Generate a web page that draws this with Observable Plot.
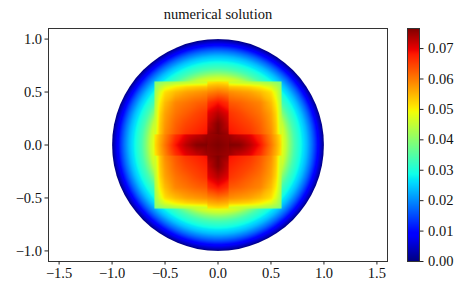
<!DOCTYPE html>
<html>
<head>
<meta charset="utf-8">
<script src="https://cdn.jsdelivr.net/npm/d3@7"></script>
<script src="https://cdn.jsdelivr.net/npm/@observablehq/plot@0.6"></script>
<style>
html,body{margin:0;padding:0;background:#fff;}
#chart{position:relative;width:463px;height:293px;overflow:hidden;}
#chart svg{position:absolute;top:0;background:transparent;}
</style>
</head>
<body>
<div id="chart"></div>
<script>
const titleText = "numerical solution";
const vmax = 0.0766;

// matplotlib "jet" control points (fraction of the colour range -> colour)
const jetFractions = [0, 0.11, 0.125, 0.34, 0.35, 0.375, 0.64, 0.65, 0.66, 0.89, 0.91, 1];
const jetColors = ["#00007f", "#0000ff", "#0000ff", "#00dcff", "#00e5f7", "#0dffea", "#eeff09", "#f8f800", "#ffeb00", "#ff1900", "#ed0000", "#7f0000"];

// value read along a radius of the disc outside the square
const discRadii = [0, 0.6, 0.64, 0.68, 0.72, 0.77, 0.8, 0.84, 0.89, 0.915, 0.95, 0.98, 1];
const discValues = [0.05, 0.049, 0.045, 0.039, 0.034, 0.03, 0.027, 0.0235, 0.0175, 0.014, 0.0085, 0.004, 0];
const discAngles = d3.range(0, 360, 4);

// corner patches of the square: |x| and |y| read along these stations
const cornerStations = [0, 0.1, 0.2, 0.3, 0.4, 0.5, 0.55, 0.58, 0.6];
const cornerValues = [
  [0.0690, 0.0690, 0.0675, 0.0660, 0.0630, 0.0585, 0.0535, 0.0480, 0.0450],
  [0.0690, 0.0690, 0.0675, 0.0660, 0.0630, 0.0585, 0.0535, 0.0480, 0.0450],
  [0.0675, 0.0675, 0.0660, 0.0645, 0.0620, 0.0575, 0.0530, 0.0470, 0.0445],
  [0.0660, 0.0660, 0.0645, 0.0625, 0.0605, 0.0565, 0.0520, 0.0460, 0.0435],
  [0.0630, 0.0630, 0.0620, 0.0605, 0.0590, 0.0545, 0.0500, 0.0450, 0.0425],
  [0.0585, 0.0585, 0.0575, 0.0565, 0.0545, 0.0515, 0.0470, 0.0430, 0.0410],
  [0.0535, 0.0535, 0.0530, 0.0520, 0.0500, 0.0470, 0.0440, 0.0415, 0.0395],
  [0.0480, 0.0480, 0.0470, 0.0460, 0.0450, 0.0430, 0.0415, 0.0400, 0.0385],
  [0.0450, 0.0450, 0.0445, 0.0435, 0.0425, 0.0410, 0.0395, 0.0385, 0.0375]
];

// arms of the cross: along = distance from the centre, across = distance from the axis
const armAlong = [0, 0.1, 0.2, 0.3, 0.4, 0.5, 0.55, 0.6];
const armAcross = [0, 0.1];
const armValues = [
  [0.0766, 0.0766, 0.0760, 0.0730, 0.0685, 0.0605, 0.0560, 0.0510],
  [0.0745, 0.0745, 0.0720, 0.0700, 0.0660, 0.0590, 0.0550, 0.0500]
];

// centre patch
const centreStations = [0, 0.1];
const centreValues = [
  [0.0766, 0.0755],
  [0.0755, 0.0745]
];

// tick labels
const xTicks = [-1.5, -1, -0.5, 0, 0.5, 1, 1.5];
const yTicks = [-1, -0.5, 0, 0.5, 1];
const barTicks = [0, 0.01, 0.02, 0.03, 0.04, 0.05, 0.06, 0.07];
const xDomain = [-1.6, 1.6];
const yDomain = [-1.1, 1.1];
const barColumns = [0, 1];
const barValues = [0, vmax];

const fontFamily = "'Liberation Serif', serif";
const axisColor = "#222";
const color = {type: "linear", domain: jetFractions.map((f) => f * vmax), range: jetColors, clamp: true};

// disc samples
const discPoints = discAngles.flatMap((deg) => discRadii.map((r, i) => ({
  x: r * Math.cos(deg * Math.PI / 180),
  y: r * Math.sin(deg * Math.PI / 180),
  v: discValues[i]
})));

function patchRaster(points, x1, x2, y1, y2) {
  return Plot.raster(points, {
    x: "x", y: "y", fill: "v", x1, x2, y1, y2,
    interpolate: "barycentric", pixelSize: 1
  });
}

function table(xs, ys, rows, sx, sy) {
  return ys.flatMap((yv, j) => xs.map((xv, i) => ({x: sx * xv, y: sy * yv, v: rows[j][i]})));
}
const signs = [[1, 1], [1, -1], [-1, 1], [-1, -1]];
const lo = centreStations[1], hi = cornerStations[cornerStations.length - 1];

// Layered from the corners inward; each layer runs under the next so the jumps stay sharp without seams
const cornerMarks = signs.map(([sx, sy]) => patchRaster(
  table(cornerStations, cornerStations, cornerValues, sx, sy),
  0, sx * hi, 0, sy * hi));
const mirrorAcross = [...armAcross.map((d) => -d).reverse().slice(0, -1), ...armAcross];
const mirrorRows = [...armValues.slice().reverse().slice(0, -1), ...armValues];
const armMarks = [1, -1].flatMap((s) => [
  patchRaster(table(armAlong, mirrorAcross, mirrorRows, s, 1), 0, s * hi, -lo, lo),
  patchRaster(mirrorAcross.flatMap((d, j) => armAlong.map((a, i) => ({x: d, y: s * a, v: mirrorRows[j][i]}))), -lo, lo, 0, s * hi)
]);
const centreMark = patchRaster(
  signs.flatMap(([sx, sy]) => table(centreStations, centreStations, centreValues, sx, sy)),
  -lo, lo, -lo, lo);

const discMark = Plot.raster(discPoints, {
  x: "x", y: "y", fill: "v", x1: -1, x2: 1, y1: -1, y2: 1,
  interpolate: "barycentric", pixelSize: 1,
  render(index, scales, values, dimensions, context, next) {
    const g = next(index, scales, values, dimensions, context);
    const id = "disc-clip";
    const clip = d3.create("svg:clipPath").attr("id", id);
    clip.append("circle")
      .attr("cx", scales.x(0))
      .attr("cy", scales.y(0))
      .attr("r", scales.x(1) - scales.x(0));
    g.insertBefore(clip.node(), g.firstChild);
    g.setAttribute("clip-path", `url(#${id})`);
    return g;
  }
});

const main = Plot.plot({
  width: 395, height: 293,
  marginLeft: 48, marginRight: 8, marginTop: 28, marginBottom: 32,
  style: {fontFamily, fontSize: "14.5px", color: axisColor, background: "transparent"},
  x: {domain: xDomain, label: null},
  y: {domain: yDomain, label: null},
  color,
  marks: [
    discMark,
    ...cornerMarks,
    ...armMarks,
    centreMark,
    Plot.frame({stroke: "#333", strokeWidth: 1}),
    Plot.axisX({ticks: xTicks, tickSize: 3.5, tickPadding: 3, tickFormat: d3.format(".1f"), label: null, fontSize: 14.5, fill: "#111"}),
    Plot.axisY({ticks: yTicks, tickSize: 3.5, tickPadding: 3, tickFormat: d3.format(".1f"), label: null, fontSize: 14.5, fill: "#111"}),
    Plot.text([titleText], {frameAnchor: "top", dy: -20, fontSize: 14.5, fill: "#111"})
  ]
});

const barPoints = barColumns.flatMap((x) => barValues.map((v) => ({x, y: v, v})));
const bar = Plot.plot({
  width: 68, height: 293,
  marginLeft: 12, marginRight: 44, marginTop: 28, marginBottom: 32,
  style: {fontFamily, fontSize: "14.5px", color: axisColor, background: "transparent"},
  x: {domain: barColumns, axis: null},
  y: {domain: barValues, label: null},
  color,
  marks: [
    patchRaster(barPoints, barColumns[0], barColumns[1], barValues[0], barValues[1]),
    Plot.frame({stroke: "#333", strokeWidth: 1}),
    Plot.axisY({anchor: "right", ticks: barTicks, tickSize: 3.5, tickPadding: 5, tickFormat: d3.format(".2f"), label: null, fontSize: 14.5, fill: "#111"})
  ]
});

main.style.left = "0px";
bar.style.left = "395px";
document.getElementById("chart").append(main, bar);
</script>
</body>
</html>
